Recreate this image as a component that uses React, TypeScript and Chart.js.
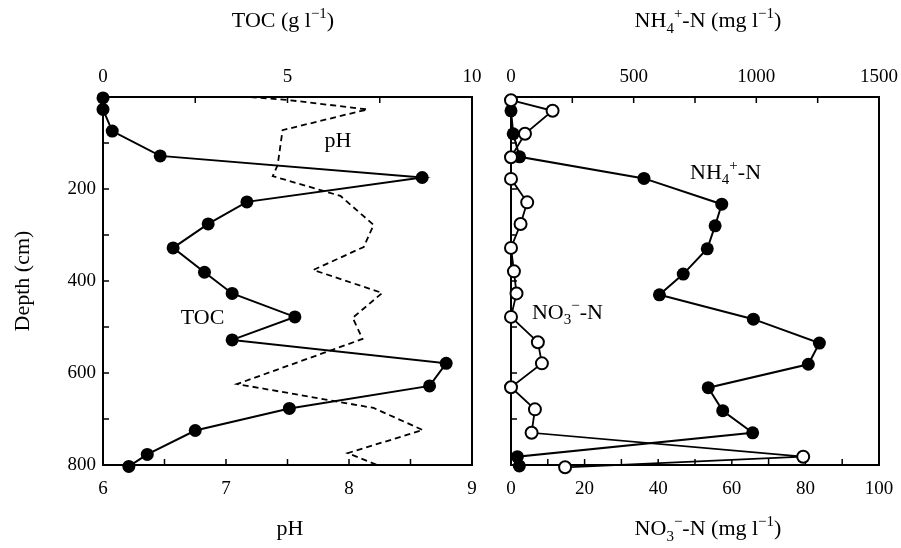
import React, { useEffect, useRef } from 'react';
import { Chart, registerables } from 'chart.js';

Chart.register(...registerables);

const FONT = '"Liberation Serif", "Times New Roman", serif';
const WEIGHT = 'normal';
const TICK_SIZE = 19;
const TEXT_SIZE = 22;

// ---------- Left panel: TOC (top axis) and pH (bottom axis) vs depth ----------
const tocDepth = [2, 27, 74, 128, 175, 228, 276, 328, 381, 427, 478, 528, 579, 628, 677, 725, 777, 803];
const tocValues = [0.0, 0.0, 0.25, 1.55, 8.65, 3.9, 2.85, 1.9, 2.75, 3.5, 5.2, 3.5, 9.3, 8.85, 5.05, 2.5, 1.2, 0.7];

const phDepth = [0, 7, 27, 72, 148, 172, 215, 278, 326, 376, 426, 480, 526, 624, 676, 724, 774, 800];
const phValues = [7.2, 7.52, 8.15, 7.46, 7.42, 7.38, 7.93, 8.2, 8.12, 7.71, 8.27, 8.03, 8.11, 7.09, 8.2, 8.6, 7.99, 8.23];

// ---------- Right panel: NH4+-N (top axis) and NO3--N (bottom axis) vs depth ----------
const nh4Depth = [30, 80, 130, 177, 233, 280, 330, 385, 430, 483, 535, 581, 632, 682, 730, 782, 802];
const nh4Values = [0, 9, 35, 542, 859, 832, 800, 702, 605, 988, 1257, 1212, 804, 863, 985, 26, 34];

const no3Depth = [7, 30, 80, 131, 178, 229, 276, 328, 379, 427, 478, 533, 579, 631, 679, 730, 782, 805];
const no3Values = [0, 11.3, 3.8, 0, 0, 4.4, 2.6, 0, 0.8, 1.5, 0, 7.3, 8.4, 0, 6.5, 5.6, 79.4, 14.7];

// ---------- Axis definitions ----------
const depthAxis = { min: 0, max: 800, step: 100, labelEvery: 200 };
const tocAxis = { min: 0, max: 10, step: 2.5, labelEvery: 5 };
const phAxis = { min: 6, max: 9, step: 0.5, labelEvery: 1 };
const nh4Axis = { min: 0, max: 1500, step: 250, labelEvery: 500 };
const no3Axis = { min: 0, max: 100, step: 10, labelEvery: 20 };

type Seg = { t: string; sup?: boolean; sub?: boolean };

function drawRich(ctx: CanvasRenderingContext2D, segs: Seg[], x: number, y: number, size: number, align: 'center' | 'left' = 'center') {
  const small = Math.round(size * 0.66);
  const widths = segs.map((s) => {
    ctx.font = `${WEIGHT} ${s.sup || s.sub ? small : size}px ${FONT}`;
    return ctx.measureText(s.t).width;
  });
  const total = widths.reduce((a, b) => a + b, 0);
  let cx = align === 'center' ? x - total / 2 : x;
  ctx.textAlign = 'left';
  ctx.textBaseline = 'alphabetic';
  ctx.fillStyle = '#000';
  segs.forEach((s, i) => {
    ctx.font = `${WEIGHT} ${s.sup || s.sub ? small : size}px ${FONT}`;
    const dy = s.sup ? -size * 0.42 : s.sub ? size * 0.25 : 0;
    ctx.fillText(s.t, cx, y + dy);
    cx += widths[i];
  });
}

const isMultiple = (v: number, m: number) => Math.abs(v / m - Math.round(v / m)) < 1e-6;

function linAxis(def: { min: number; max: number; step: number; labelEvery: number }, position: string, padding: number, size: number, hideZero = false, showLabels = true) {
  return {
    type: 'linear',
    position,
    min: def.min,
    max: def.max,
    reverse: position === 'left',
    grid: { display: false, drawTicks: false },
    border: { display: false },
    ticks: {
      stepSize: def.step,
      autoSkip: false,
      maxRotation: 0,
      minRotation: 0,
      padding,
      color: '#000',
      font: { family: FONT, size: TICK_SIZE, weight: WEIGHT },
      display: showLabels,
      callback: (v: number) => {
        if (hideZero && v === 0) return '';
        return isMultiple(v, def.labelEvery) ? String(v) : '';
      },
    },
    afterFit: (s: any) => {
      if (position === 'left') s.width = size;
      else s.height = size;
      s.paddingLeft = 0;
      s.paddingRight = 0;
      s.paddingTop = 0;
      s.paddingBottom = 0;
    },
  };
}

function decoPlugin(drawTexts: (chart: any, ctx: CanvasRenderingContext2D) => void) {
  return {
    id: 'panelDeco',
    beforeDatasetsDraw(chart: any) {
      const { ctx, chartArea: a, scales } = chart;
      ctx.save();
      ctx.strokeStyle = '#000';
      ctx.lineWidth = 2;
      ctx.strokeRect(a.left, a.top, a.right - a.left, a.bottom - a.top);
      ctx.lineWidth = 1.5;
      ctx.beginPath();
      scales.y.ticks.forEach((t: any) => {
        const p = scales.y.getPixelForValue(t.value);
        ctx.moveTo(a.left, p);
        ctx.lineTo(a.left + 6, p);
      });
      scales.xTop.ticks.forEach((t: any) => {
        const p = scales.xTop.getPixelForValue(t.value);
        ctx.moveTo(p, a.top);
        ctx.lineTo(p, a.top + 6);
      });
      scales.xBot.ticks.forEach((t: any) => {
        const p = scales.xBot.getPixelForValue(t.value);
        ctx.moveTo(p, a.bottom);
        ctx.lineTo(p, a.bottom - 6);
      });
      ctx.stroke();
      ctx.restore();
    },
    afterDraw(chart: any) {
      const ctx = chart.ctx as CanvasRenderingContext2D;
      ctx.save();
      drawTexts(chart, ctx);
      ctx.restore();
    },
  };
}

const toPoints = (xs: number[], ys: number[]) => ys.map((d, i) => ({ x: xs[i], y: d }));

const W = 901;
const H = 548;
const TOP_H = 97;
const BOT_H = H - 465;

export default function App() {
  const leftRef = useRef<HTMLCanvasElement>(null);
  const rightRef = useRef<HTMLCanvasElement>(null);

  useEffect(() => {
    const common = {
      responsive: false,
      animation: false as const,
      devicePixelRatio: 1,
      events: [] as any[],
      plugins: { legend: { display: false }, tooltip: { enabled: false } },
    };

    const left = new Chart(leftRef.current!, {
      type: 'scatter',
      data: {
        datasets: [
          {
            data: toPoints(tocValues, tocDepth),
            xAxisID: 'xTop',
            yAxisID: 'y',
            showLine: true,
            borderColor: '#000',
            borderWidth: 2,
            pointRadius: 6.5,
            pointBackgroundColor: '#000',
            pointBorderColor: '#000',
            pointBorderWidth: 0,
            clip: false,
          } as any,
          {
            data: toPoints(phValues, phDepth),
            xAxisID: 'xBot',
            yAxisID: 'y',
            showLine: true,
            borderColor: '#000',
            borderWidth: 1.8,
            borderDash: [6, 4],
            pointRadius: 0,
            clip: false,
          } as any,
        ],
      },
      options: {
        ...common,
        layout: { autoPadding: false, padding: { left: 0, top: 0, right: W - 472, bottom: 0 } },
        scales: {
          y: linAxis(depthAxis, 'left', 7, 103, true),
          xTop: linAxis(tocAxis, 'top', 9, TOP_H),
          xBot: linAxis(phAxis, 'bottom', 13, BOT_H),
        } as any,
      },
      plugins: [
        decoPlugin((chart, ctx) => {
          const sx = chart.scales.xTop;
          const sy = chart.scales.y;
          drawRich(ctx, [{ t: 'TOC (g l' }, { t: '−1', sup: true }, { t: ')' }], 283, 27, TEXT_SIZE);
          drawRich(ctx, [{ t: 'pH' }], 290, 535, TEXT_SIZE);
          drawRich(ctx, [{ t: 'pH' }], sx.getPixelForValue(6.37), sy.getPixelForValue(93) + 7, TEXT_SIZE);
          drawRich(ctx, [{ t: 'TOC' }], sx.getPixelForValue(2.7), sy.getPixelForValue(478) + 7, TEXT_SIZE);
          ctx.save();
          ctx.translate(22, (chart.chartArea.top + chart.chartArea.bottom) / 2);
          ctx.rotate(-Math.PI / 2);
          drawRich(ctx, [{ t: 'Depth (cm)' }], 0, 7, TEXT_SIZE);
          ctx.restore();
        }),
      ],
    } as any);

    const right = new Chart(rightRef.current!, {
      type: 'scatter',
      data: {
        datasets: [
          {
            data: toPoints(no3Values, no3Depth),
            xAxisID: 'xBot',
            yAxisID: 'y',
            showLine: true,
            borderColor: '#000',
            borderWidth: 1.8,
            pointRadius: 6,
            pointBackgroundColor: '#fff',
            pointBorderColor: '#000',
            pointBorderWidth: 2,
            clip: false,
          } as any,
          {
            data: toPoints(nh4Values, nh4Depth),
            xAxisID: 'xTop',
            yAxisID: 'y',
            showLine: true,
            borderColor: '#000',
            borderWidth: 2,
            pointRadius: 6.5,
            pointBackgroundColor: '#000',
            pointBorderColor: '#000',
            pointBorderWidth: 0,
            clip: false,
          } as any,
        ],
      },
      options: {
        ...common,
        layout: { autoPadding: false, padding: { left: 0, top: 0, right: W - 879, bottom: 0 } },
        scales: {
          y: linAxis(depthAxis, 'left', 12, 511, true, false),
          xTop: linAxis(nh4Axis, 'top', 9, TOP_H),
          xBot: linAxis(no3Axis, 'bottom', 13, BOT_H),
        } as any,
      },
      plugins: [
        decoPlugin((chart, ctx) => {
          const sx = chart.scales.xTop;
          const sb = chart.scales.xBot;
          const sy = chart.scales.y;
          drawRich(
            ctx,
            [{ t: 'NH' }, { t: '4', sub: true }, { t: '+', sup: true }, { t: '-N (mg l' }, { t: '−1', sup: true }, { t: ')' }],
            708,
            27,
            TEXT_SIZE
          );
          drawRich(
            ctx,
            [{ t: 'NO' }, { t: '3', sub: true }, { t: '−', sup: true }, { t: '-N (mg l' }, { t: '−1', sup: true }, { t: ')' }],
            708,
            535,
            TEXT_SIZE
          );
          drawRich(ctx, [{ t: 'NH' }, { t: '4', sub: true }, { t: '+', sup: true }, { t: '-N' }], sx.getPixelForValue(730), sy.getPixelForValue(163) + 7, TEXT_SIZE, 'left');
          drawRich(ctx, [{ t: 'NO' }, { t: '3', sub: true }, { t: '−', sup: true }, { t: '-N' }], sb.getPixelForValue(5.7), sy.getPixelForValue(467) + 7, TEXT_SIZE, 'left');
        }),
      ],
    } as any);

    return () => {
      left.destroy();
      right.destroy();
    };
  }, []);

  return (
    <div style={{ position: 'absolute', left: 0, top: 0, width: W, height: H, background: '#fff' }}>
      <canvas ref={leftRef} width={W} height={H} style={{ position: 'absolute', left: 0, top: 0 }} />
      <canvas ref={rightRef} width={W} height={H} style={{ position: 'absolute', left: 0, top: 0 }} />
    </div>
  );
}
